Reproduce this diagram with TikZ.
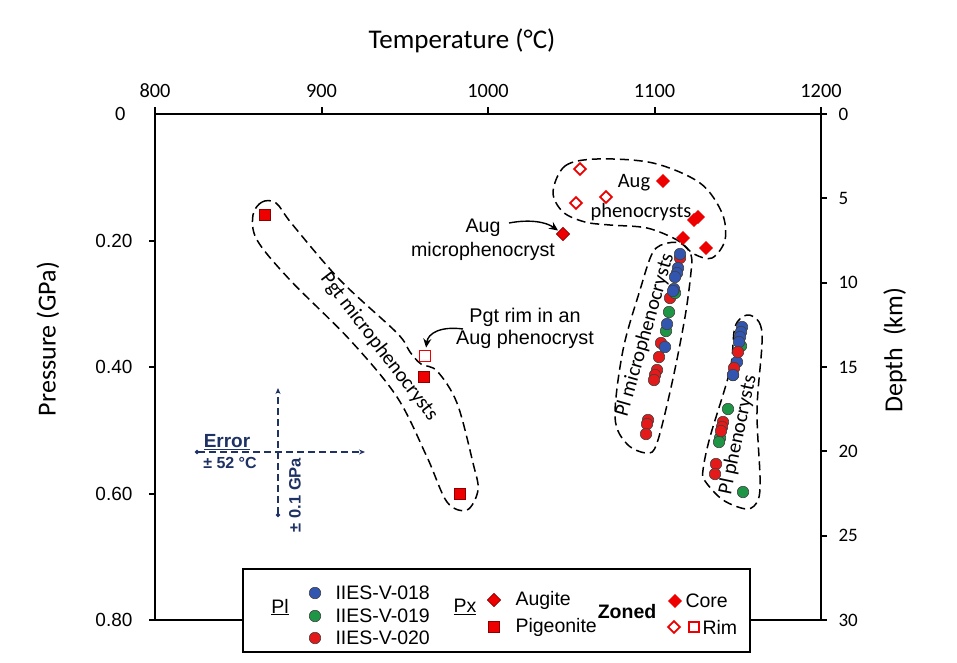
\documentclass[tikz,border=0pt]{standalone}
\usepackage{fontspec}
\setmainfont{Carlito}
\newfontfamily\ari{Liberation Sans}
\usetikzlibrary{shapes.geometric,arrows.meta}
\definecolor{plblue}{RGB}{50,85,175}
\definecolor{plgreen}{RGB}{30,150,70}
\definecolor{plred}{RGB}{228,25,25}
\definecolor{pxred}{RGB}{238,0,0}
\definecolor{pxedge}{RGB}{140,0,0}
\definecolor{errnavy}{RGB}{31,50,100}
\tikzset{
  ax/.style={line width=2pt, line cap=rect},
  env/.style={line width=1.5pt, dash pattern=on 9pt off 5pt},
  plc/.style={circle, draw=black!75, line width=0.6pt, inner sep=0pt, minimum size=11.5pt},
  plb/.style={plc, fill=plblue},
  plg/.style={plc, fill=plgreen},
  plr/.style={plc, fill=plred},
  augd/.style={diamond, aspect=1, inner sep=0pt, minimum size=13.5pt, fill=pxred, draw=pxedge, line width=0.6pt},
  cored/.style={diamond, aspect=1, inner sep=0pt, minimum size=13.5pt, fill=pxred, draw=pxred, line width=0.4pt},
  rimd/.style={diamond, aspect=1, inner sep=0pt, minimum size=12.5pt, fill=white, draw=pxred, line width=1.8pt},
  pgts/.style={rectangle, inner sep=0pt, minimum size=11pt, fill=pxred, draw=pxedge, line width=0.6pt},
  rims/.style={rectangle, inner sep=0pt, minimum size=11pt, fill=white, draw=pxred, line width=1.8pt},
  ticklab/.style={font=\fontsize{20.3}{23}\selectfont},
  deplab/.style={font=\fontsize{19}{22}\selectfont, anchor=west},
  preslab/.style={font=\ari\fontsize{19}{22}\selectfont, anchor=east},
  axtitle/.style={font=\fontsize{26}{30}\selectfont},
  cal/.style={font=\fontsize{20.5}{24}\selectfont},
  ann/.style={font=\ari\fontsize{19.6}{24}\selectfont, align=center},
  leg/.style={font=\ari\fontsize{19.5}{22}\selectfont},
  arr/.style={line width=1.4pt, -{Stealth[length=9pt,width=8pt]}},
  errl/.style={errnavy, line width=1.6pt, dash pattern=on 7pt off 4pt},
}
\begin{document}
\begin{tikzpicture}[x=1pt,y=-1pt]
\useasboundingbox[fill=white] (0,0) rectangle (957,662);

% axes
\draw[ax] (155,114) -- (821,114) -- (821,620) -- (150,620);
\draw[ax] (155,114) -- (155,620);
\foreach \t [count=\i] in {800,900,1000,1100,1200}{
  \pgfmathsetmacro{\xx}{155+166.5*(\i-1)}
  \draw[ax] (\xx,114) -- (\xx,108);
  \node[ticklab] (tx\i) at (\xx,91) {\t};
}
\node[ticklab, anchor=east] (py0) at (129,114) {0};
\foreach \p [count=\i] in {0.20,0.40,0.60,0.80}{
  \pgfmathsetmacro{\yy}{114+126.5*\i}
  \draw[ax] (150,\yy) -- (155,\yy);
  \node[preslab] (py\i) at (136,\yy) {\p};
}
\foreach \d [count=\i from 0] in {0,5,10,15,20,25,30}{
  \pgfmathsetmacro{\yy}{114+84.333*\i}
  \draw[ax] (821,\yy) -- (826,\yy);
  \node[deplab] (dy\i) at (835,\yy) {\d};
}
\node[axtitle, font=\fontsize{27}{30}\selectfont] (xtitle) at (462,41) {Temperature (°C)};
\node[axtitle, rotate=90] (ytitle) at (48,339) {Pressure (GPa)};
\node[axtitle, rotate=90] (dtitle) at (895,350) {Depth\ \ (km)};

% envelopes
\draw[env] plot[smooth cycle, tension=0.55] coordinates {(253,215) (262,202) (276,203) (292,224) (340,280) (397,333) (410,352) (421,364) (437,371) (457,403) (473,463) (478,490) (467,510) (447,502) (427,457) (397,397) (350,340) (290,280) (257,240)};
\draw[env] plot[smooth cycle, tension=0.55] coordinates {(553,192) (565,166) (597,159) (653,163) (700,183) (722,213) (725,240) (712,258) (694,254) (677,240) (647,228) (610,225) (585,222) (563,212)};
\draw[env] plot[smooth cycle, tension=0.55] coordinates {(668,243) (682,244) (691,255) (691,272) (685,317) (672,383) (657,443) (647,453) (627,444) (615,417) (623,350) (640,290) (653,252)};
\draw[env] plot[smooth cycle, tension=0.55] coordinates {(747,315) (759,322) (762,343) (757,410) (760,477) (758,500) (747,509) (723,500) (705,481) (703,470) (710,437) (730,370) (735,327)};

% envelope labels
\node[cal, rotate=-52.5] (pgtlab) at (379,347) {Pgt microphenocrysts};
\node[cal, rotate=74] (plmlab) at (645,335) {Pl microphenocrysts};
\node[cal, rotate=78] (plplab) at (738,435) {Pl phenocrysts};
\node[cal] (augpA) at (634,183) {Aug};
\node[cal] (augpB) at (641,212) {phenocrysts};

% Pl microphenocrysts
\foreach \x/\y [count=\i] in {680/258,670/298,661/343,659/357,657/370,655/375,654/380,648/420,647/424,646/434}
  \node[plr] (pmr\i) at (\x,\y) {};
\foreach \x/\y [count=\i] in {675/293,669/312,666/331}
  \node[plg] (pmg\i) at (\x,\y) {};
\foreach \x/\y [count=\i] in {680/254,678/268,677/273,675/277,674/289,673/291,667/324,665/347}
  \node[plb] (pmb\i) at (\x,\y) {};

% Pl phenocrysts
\foreach \x/\y [count=\i] in {741/346,728/409,720/438,719/442,743/492}
  \node[plg] (ppg\i) at (\x,\y) {};
\foreach \x/\y [count=\i] in {742/327,741/332,740/337,739/342,737/362,733/375}
  \node[plb] (ppb\i) at (\x,\y) {};
\foreach \x/\y [count=\i] in {738/352,734/368,723/422,722/427,721/431,716/464,715/474}
  \node[plr] (ppr\i) at (\x,\y) {};
\node[plb] (ppb7) at (733,375) {};

% Px
\foreach \x/\y [count=\i] in {663/181,698/217,694/220,683/238,706/248}
  \node[cored] (augc\i) at (\x,\y) {};
\foreach \x/\y [count=\i] in {580/169,576/203,606/197}
  \node[rimd] (augr\i) at (\x,\y) {};
\node[augd] (augmicro) at (563,234) {};
\foreach \x/\y [count=\i] in {265/215,424/377,460/494}
  \node[pgts] (pgt\i) at (\x,\y) {};
\node[rims] (pgtrim) at (425,356) {};

% annotations
\node[ann] (augmicrotxt) at (483,240) {Aug\\microphenocryst};
\coordinate (amS) at (509,223);
\draw[arr, shorten >=1pt] (amS) .. controls (530,219) and (546,222) .. (augmicro);
\node[ann, font=\ari\fontsize{19.8}{22}\selectfont] (pgtrimtxt) at (525,328) {Pgt rim in an\\Aug phenocryst};
\coordinate (prS) at (463,329);
\draw[arr, shorten >=2pt] (prS) .. controls (441,326) and (428,333) .. (pgtrim);

% error cross
\coordinate (eL) at (195,452);
\coordinate (eR) at (365,452);
\coordinate (eB) at (278,517);
\coordinate (eT) at (278,388);
\draw[errl, {Circle[length=4pt]}-{Stealth[length=6pt,width=5pt]}] (eL) -- (eR);
\draw[errl, {Circle[length=4pt]}-{Stealth[length=6pt,width=5pt]}] (eB) -- (eT);
\node[text=errnavy, font=\ari\bfseries\fontsize{19}{20}\selectfont] (errtxt) at (227,442) {\underline{Error}};
\node[text=errnavy, font=\ari\bfseries\fontsize{16}{18}\selectfont] (errT) at (230,463) {± 52 °C};
\node[text=errnavy, font=\ari\bfseries\fontsize{16.5}{18}\selectfont, rotate=90] (errP) at (295,495) {± 0.1 GPa};

% legend
\node[draw, line width=1.3pt, fill=white, minimum width=507pt, minimum height=83pt, inner sep=0pt] (legend) at (496.5,610.5) {};
\node[leg] (legPl) at (280,607) {\underline{Pl}};
\node[plb] (lg1) at (315,593) {};
\node[plg] (lg2) at (315,616) {};
\node[plr] (lg3) at (315,638) {};
\node[leg, anchor=west] (lt1) at (332,593) {IIES-V-018};
\node[leg, anchor=west] (lt2) at (332,616) {IIES-V-019};
\node[leg, anchor=west] (lt3) at (332,638) {IIES-V-020};
\node[leg] (legPx) at (465,607) {\underline{Px}};
\node[augd] (lgaug) at (494,600) {};
\node[pgts] (lgpgt) at (494,627) {};
\node[leg, anchor=west] (ltaug) at (512,600) {Augite};
\node[leg, anchor=west] (ltpgt) at (512,627) {Pigeonite};
\node[font=\ari\bfseries\fontsize{19.5}{22}\selectfont] (ltzoned) at (627,612) {Zoned};
\node[cored] (lgcore) at (675,601) {};
\node[leg, anchor=west] (ltcore) at (682,601) {Core};
\node[rimd] (lgrimd) at (674,627) {};
\node[rims, minimum size=10pt] (lgrims) at (694,627) {};
\node[leg, anchor=west] (ltrim) at (699,627) {Rim};
\end{tikzpicture}
\end{document}
